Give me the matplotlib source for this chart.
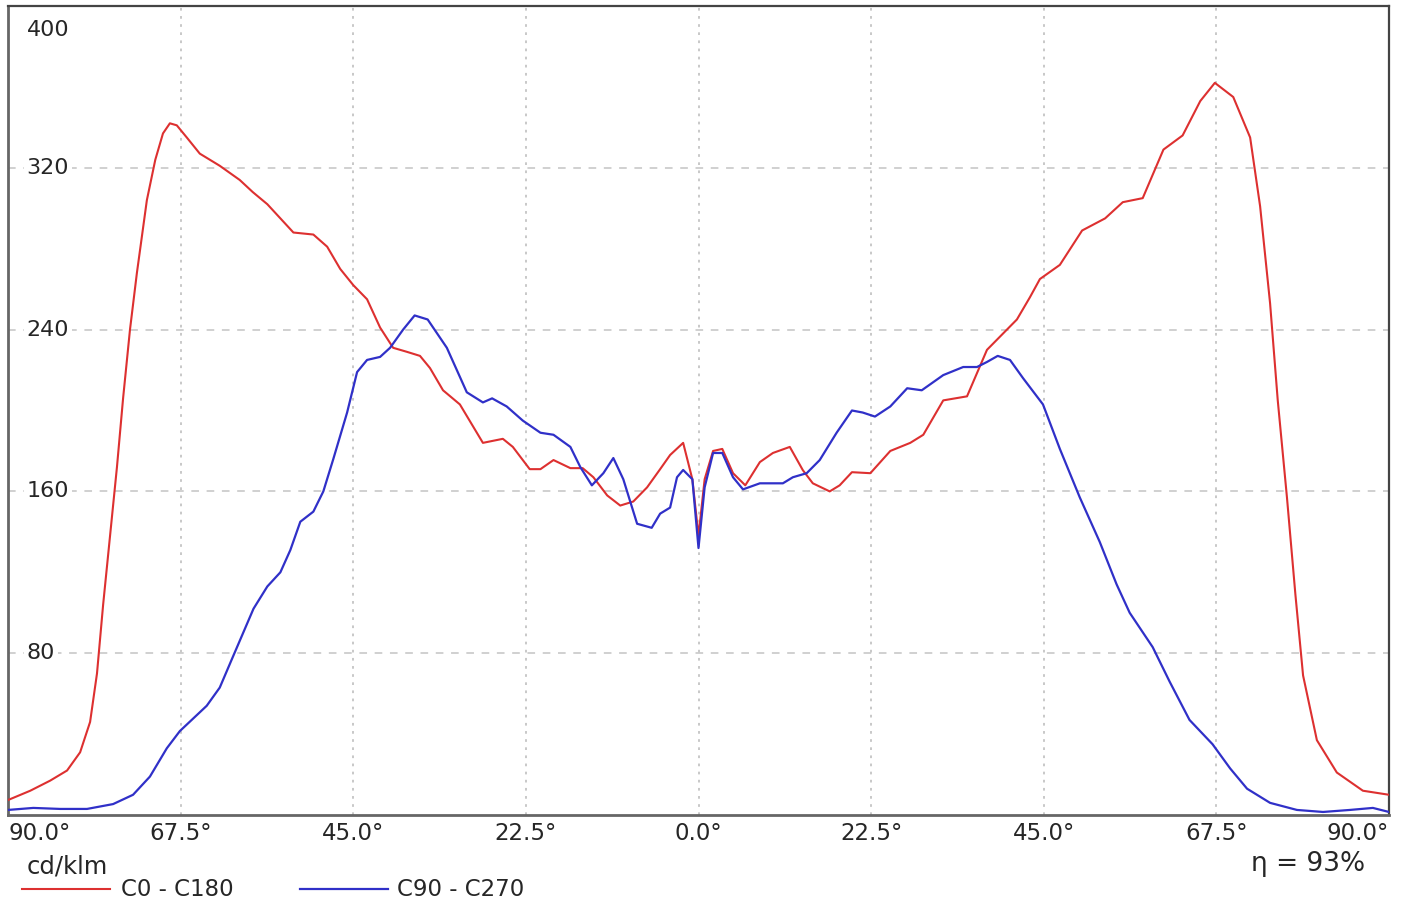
import matplotlib
matplotlib.use("Agg")
import matplotlib.pyplot as plt
from matplotlib.lines import Line2D

# C0 - C180 plane (angle in degrees, intensity in cd/klm)
red_angle = [-90, -87.1, -84.5, -82.3, -80.6, -79.3, -78.4, -77.6, -76.7, -75.8,
             -75.0, -74.1, -73.2, -71.9, -70.8, -69.8, -68.9, -68.0, -66.7, -65.0,
             -62.4, -59.8, -58.1, -56.2, -54.5, -52.8, -50.2, -48.4, -46.7, -45.0,
             -43.2, -41.5, -39.8, -38.0, -36.3, -35.0, -33.3, -31.1, -28.1, -25.5,
             -24.2, -22.0, -20.6, -18.9, -16.7, -15.1, -13.7, -11.9, -10.2, -8.5,
             -6.7, -5.0, -3.7, -2.0, -0.8, 0, 0.8, 1.9, 3.1, 4.5,
             6.1, 8.0, 9.7, 11.9, 13.6, 14.9, 17.1, 18.4, 20.0, 22.4,
             25.0, 27.6, 29.3, 31.9, 35.0, 37.6, 40.2, 41.5, 43.2, 44.5,
             47.1, 50.0, 53.0, 55.3, 57.9, 60.6, 63.1, 65.4, 67.3, 69.7,
             71.9, 73.2, 74.5, 75.5, 76.7, 77.8, 78.8, 80.6, 83.2, 86.6, 90]
red_value = [7.4, 12, 17, 22, 31, 46, 70, 104, 138, 172,
             206, 240, 268, 304, 324, 337, 342, 341, 335, 327,
             321, 314, 308, 302, 295, 288, 287, 281, 270, 262,
             255, 241, 231, 229, 227, 221, 210, 203, 184, 186,
             182, 171, 171, 175.5, 171.5, 171.5, 167, 158, 153, 155,
             162, 171, 178, 184, 166, 138, 166, 180, 181, 169,
             163, 174.5, 179, 182, 170.5, 164, 160, 163, 169.5, 169,
             180, 184, 188, 205, 207, 230, 240, 245, 256, 265,
             272, 289, 295, 303, 305, 329, 336, 353, 362, 355,
             335, 301, 253, 205, 157, 109, 69, 37, 21, 12, 10]

# C90 - C270 plane
blue_angle = [-90, -86.7, -83.2, -79.7, -76.3, -73.7, -71.5, -69.3, -67.6, -64.1,
              -62.4, -60.6, -58.0, -56.2, -54.5, -53.2, -51.9, -50.2, -48.9, -47.6,
              -45.8, -44.5, -43.2, -41.5, -40.2, -38.5, -37.0, -35.3, -32.8, -30.2,
              -28.1, -26.9, -25.0, -22.9, -20.6, -18.9, -16.7, -15.4, -13.9, -12.4,
              -11.1, -9.8, -8.0, -6.1, -5.0, -3.7, -2.8, -2.0, -0.8, 0,
              0.8, 1.9, 3.1, 4.5, 5.8, 8.0, 11.0, 12.3, 14.1, 15.8,
              18.0, 20.0, 21.4, 23.0, 25.0, 27.2, 29.1, 31.9, 34.5, 36.3,
              37.6, 39.0, 40.6, 42.3, 44.9, 47.1, 49.7, 52.3, 54.5, 56.2,
              59.2, 61.4, 64.0, 67.0, 69.3, 71.5, 74.5, 78.0, 81.4, 84.9, 87.9, 90]
blue_value = [2.5, 3.5, 3, 3, 5.4, 10, 19, 33, 41.5, 54,
              63, 79, 102, 113, 120, 131, 145, 150, 160, 176,
              199, 219, 225, 226.5, 231, 240, 247, 245, 231, 209,
              204, 206, 202, 195, 189, 188, 182, 172, 163, 169,
              176.5, 166, 144, 142, 149, 152, 167, 170.6, 166, 132,
              162, 179, 179, 167, 161, 164, 164, 167, 169, 175.5,
              189, 200, 199, 197, 202, 211, 210, 217.5, 221.5, 221.5,
              224, 227, 225, 216, 203, 181, 157, 135, 114, 100,
              83, 66, 47, 35, 23, 13, 6, 2.5, 1.5, 2.5, 3.5, 1.5]

x_ticks = [-90, -67.5, -45, -22.5, 0, 22.5, 45, 67.5, 90]
y_ticks = [80, 160, 240, 320, 400]

plt.rcParams['font.family'] = ['DejaVu Sans']
text_color = '#262626'

fig = plt.figure(figsize=(14.05, 9.1), dpi=100)
ax = fig.add_axes([8 / 1405, 1 - 815 / 910, 1381 / 1405, 809 / 910])

ax.plot(red_angle, red_value, color='#dd3030', linewidth=1.5, zorder=3)
ax.plot(blue_angle, blue_value, color='#3030c8', linewidth=1.6, zorder=4)

ax.set_xlim(-90, 90)
ax.set_ylim(0, 400)

# grid: dotted verticals, dashed horizontals
for xv in x_ticks[1:-1]:
    ax.axvline(xv, color='#c4c4c4', linestyle=(0, (1.5, 3)), linewidth=1.3, zorder=1)
for yv in y_ticks[:-1]:
    ax.axhline(yv, color='#c4c4c4', linestyle=(0, (5, 5)), linewidth=1.1, zorder=1)

# y labels sit inside the plot on white boxes
for yv in y_ticks:
    ypos = 388 if yv == 400 else yv
    ax.text(0.0135, ypos, str(yv), transform=ax.get_yaxis_transform(),
            fontsize=16, color=text_color, va='center', ha='left', zorder=2,
            bbox=dict(facecolor='white', edgecolor='none', pad=2))
ax.set_yticks([])

ax.set_xticks(x_ticks)
ax.set_xticklabels(["{0:.1f}°".format(abs(v)) for v in x_ticks],
                   fontsize=16.5, color=text_color)
ax.tick_params(axis='x', length=0, pad=5)
labels = ax.get_xticklabels()
labels[0].set_ha('left')
labels[-1].set_ha('right')

for side in ['left', 'bottom']:
    ax.spines[side].set_color('#666666')
    ax.spines[side].set_linewidth(2)
for side in ['right', 'top']:
    ax.spines[side].set_color('#444444')
    ax.spines[side].set_linewidth(1.6)

# unit, legend and efficiency under the plot
fig.text(27 / 1405, 1 - 866 / 910, "cd/klm", fontsize=17.5, color=text_color,
         va='center', ha='left')
fig.add_artist(Line2D([22 / 1405, 110 / 1405], [1 - 889 / 910] * 2,
                      color='#dd3030', linewidth=1.5))
fig.text(121 / 1405, 1 - 890 / 910, "C0 - C180", fontsize=16.5, color=text_color,
         va='center', ha='left')
fig.add_artist(Line2D([300 / 1405, 388 / 1405], [1 - 889 / 910] * 2,
                      color='#3030c8', linewidth=1.6))
fig.text(397 / 1405, 1 - 890 / 910, "C90 - C270", fontsize=16.5, color=text_color,
         va='center', ha='left')
fig.text(1365 / 1405, 1 - 864 / 910, "η = 93%", fontsize=19, color=text_color,
         va='center', ha='right')

fig.savefig("out.png", dpi=100, facecolor='white')
